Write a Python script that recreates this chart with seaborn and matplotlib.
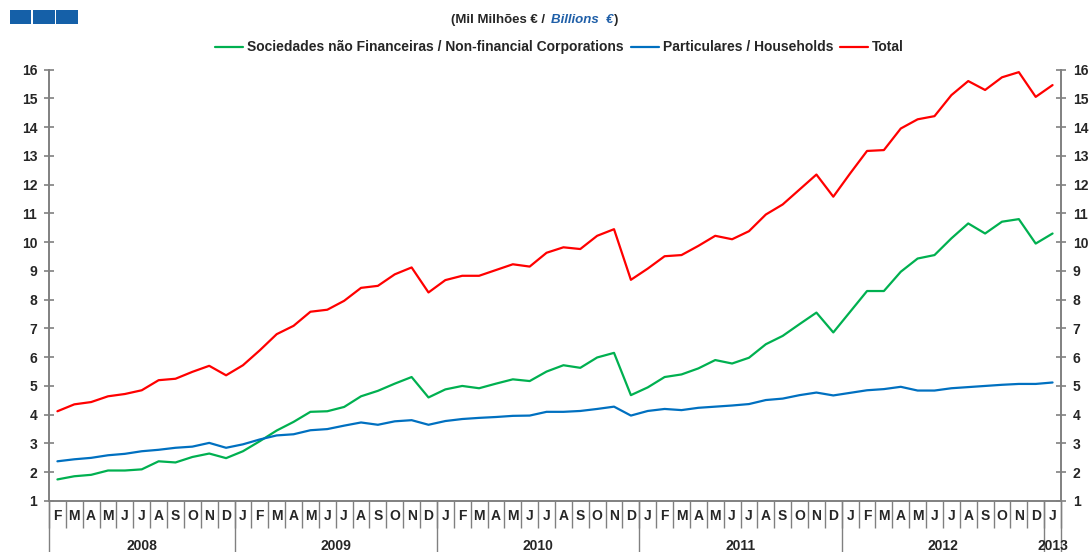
import pandas as pd
import numpy as np
import seaborn as sns
import matplotlib.pyplot as plt
from matplotlib.patches import Rectangle

# dados (mil milhões de euros), Fev 2008 - Jan 2013
months = list("FMAMJJASOND") + list("JFMAMJJASOND") * 4 + ["J"]
years = ["2008", "2009", "2010", "2011", "2012", "2013"]
months_per_year = [11, 12, 12, 12, 12, 1]

nfc = [1.75, 1.86, 1.91, 2.06, 2.06, 2.10, 2.38, 2.34, 2.53, 2.65, 2.49,
       2.73, 3.08, 3.45, 3.75, 4.10, 4.12, 4.27, 4.64, 4.83, 5.08, 5.31, 4.60,
       4.88, 5.00, 4.92, 5.08, 5.23, 5.17, 5.50, 5.72, 5.63, 5.99, 6.15, 4.68,
       4.95, 5.31, 5.40, 5.61, 5.90, 5.78, 5.98, 6.45, 6.74, 7.15, 7.55, 6.86,
       7.58, 8.30, 8.30, 8.97, 9.43, 9.55, 10.13, 10.65, 10.30, 10.71, 10.80, 9.95,
       10.30]
households = [2.38, 2.45, 2.50, 2.59, 2.64, 2.73, 2.78, 2.85, 2.89, 3.02, 2.85,
              2.97, 3.14, 3.28, 3.32, 3.46, 3.50, 3.62, 3.73, 3.65, 3.77, 3.81, 3.65,
              3.78, 3.85, 3.89, 3.92, 3.96, 3.97, 4.10, 4.10, 4.13, 4.20, 4.28, 3.97,
              4.13, 4.20, 4.16, 4.24, 4.28, 4.32, 4.37, 4.51, 4.56, 4.68, 4.77, 4.67,
              4.76, 4.85, 4.89, 4.97, 4.84, 4.84, 4.92, 4.96, 5.00, 5.04, 5.07, 5.07,
              5.12]
total = [4.12, 4.36, 4.44, 4.64, 4.72, 4.85, 5.20, 5.25, 5.49, 5.70, 5.37,
         5.72, 6.24, 6.80, 7.09, 7.58, 7.65, 7.96, 8.41, 8.48, 8.88, 9.12, 8.25,
         8.68, 8.83, 8.83, 9.03, 9.23, 9.15, 9.63, 9.82, 9.76, 10.22, 10.45, 8.69,
         9.08, 9.51, 9.55, 9.87, 10.22, 10.10, 10.38, 10.96, 11.31, 11.83, 12.35, 11.58,
         12.39, 13.17, 13.20, 13.95, 14.27, 14.38, 15.11, 15.60, 15.29, 15.73, 15.91, 15.05,
         15.46]

series_names = ["Sociedades não Financeiras / Non-financial Corporations",
                "Particulares / Households",
                "Total"]
colors = ["#00B050", "#0070C0", "#FF0000"]

n = len(months)
df = pd.DataFrame({
    "idx": list(range(n)) * 3,
    "valor": nfc + households + total,
    "serie": [series_names[0]] * n + [series_names[1]] * n + [series_names[2]] * n,
})

sns.set_style("white")
plt.rcParams['font.family'] = ['Liberation Sans', 'DejaVu Sans']
plt.rcParams['font.weight'] = 'bold'

fig = plt.figure(figsize=(10.91, 5.52), dpi=100)
ax = fig.add_axes([0.0449, 0.0924, 0.9276, 0.7816])

sns.lineplot(data=df, x="idx", y="valor", hue="serie", hue_order=series_names,
             palette=colors, linewidth=1.6, ax=ax, legend=True)

grey = "#808080"
ax.set_xlim(-0.5, n - 0.5)
ax.set_ylim(1, 16)
ax.set_yticks(range(1, 17))
ax.set_xticks(range(n))
ax.set_xticklabels(months, fontsize=10, fontweight='bold')
ax.tick_params(axis='x', length=0, pad=6)
ax.tick_params(axis='y', direction='inout', length=7, width=1.2, color=grey,
               labelsize=10, pad=5)
ax.set_xlabel("")
ax.set_ylabel("")
ax.spines["top"].set_visible(False)
for s in ["left", "right", "bottom"]:
    ax.spines[s].set_color(grey)
    ax.spines[s].set_linewidth(1.4)

# eixo da direita
ax2 = ax.twinx()
ax2.set_ylim(1, 16)
ax2.set_yticks(range(1, 17))
ax2.tick_params(axis='y', direction='inout', length=7, width=1.2, color=grey,
                labelsize=10, pad=5)
for s in ["top", "left", "bottom", "right"]:
    ax2.spines[s].set_visible(False)
for lab in ax.get_yticklabels() + ax2.get_yticklabels():
    lab.set_fontweight('bold')

# separadores de meses e anos
xt = ax.get_xaxis_transform()
ax.vlines(np.arange(n + 1) - 0.5, -0.062, 0, transform=xt, color=grey,
          linewidth=1.0, clip_on=False)
bounds = np.cumsum([0] + months_per_year) - 0.5
ax.vlines(bounds, -0.125, 0, transform=xt, color=grey, linewidth=1.0, clip_on=False)
for y, start, cnt in zip(years, bounds[:-1], months_per_year):
    ax.text(start + cnt / 2, -0.104, y, transform=xt, ha='center', va='center',
            fontsize=10, fontweight='bold')

# legenda
handles, labels = ax.get_legend_handles_labels()
ax.legend(handles, labels, loc='center', bbox_to_anchor=(0.513, 0.914),
          bbox_transform=fig.transFigure, ncol=3, frameon=False,
          fontsize=10, handlelength=2.0, handletextpad=0.3, columnspacing=0.5)
for t in ax.get_legend().get_texts():
    t.set_fontweight('bold')

# subtítulo
fig.text(0.503, 0.963, "(Mil Milhões € / ", ha='right', va='center',
         fontsize=9.5, fontweight='bold')
fig.text(0.505, 0.963, "Billions  €", ha='left', va='center', fontsize=9.5,
         fontweight='bold', style='italic', color="#1F5FA8")
fig.text(0.563, 0.963, ")", ha='left', va='center', fontsize=9.5, fontweight='bold')

# logótipo
for x0 in [10, 33.3, 56.3]:
    fig.patches.append(Rectangle((x0 / 1091, 1 - 23.5 / 552), 21.3 / 1091, 14 / 552,
                                 transform=fig.transFigure, facecolor="#1560A8",
                                 linewidth=0))

fig.savefig("out.png", dpi=100)
